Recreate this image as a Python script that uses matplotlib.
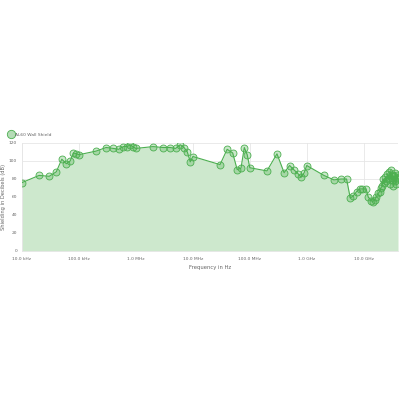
import numpy as np
import matplotlib.pyplot as plt
from matplotlib.ticker import FixedLocator, NullLocator

# Frequencies in Hz and shielding values in dB
freq_khz = [10, 20, 30, 40, 50, 60, 70, 80, 90, 100, 200, 300, 400, 500, 600, 700, 800, 900]
shield_khz = [76, 84, 83, 88, 102, 97, 100, 109, 108, 107, 111, 115, 114, 113, 116, 116, 118, 115.5]

freq_mhz = [1, 2, 3, 4, 5, 6, 7, 8, 9, 10, 30, 40, 50, 60, 70, 80, 90, 100,
            200, 300, 400, 500, 600, 700, 800, 900]
shield_mhz = [114, 116, 115, 115, 114, 118, 115, 110, 99, 105, 96, 113, 109, 90.5, 92, 115, 107, 92.5,
              89, 108, 87, 95, 90, 86, 82, 87]

freq_ghz = [1, 2, 3, 4, 5, 5.8, 6.5, 7.5, 8.5, 9.5, 11, 12, 13.5, 14.5, 15.5, 16.5, 18, 19, 20,
            21, 22, 23, 24, 25, 26, 27, 28, 29, 30, 31, 32, 33, 34, 35, 36, 37, 38, 39, 40]
shield_ghz = [95, 84, 79, 80, 80, 59, 61, 66, 69, 69, 69, 60, 56, 55, 57, 60, 64, 66, 70,
              72, 80, 76, 82, 78, 86, 80, 88, 75, 90, 79, 85, 72, 83, 78, 87, 74, 84, 80, 82]

freq = np.array([f * 1e3 for f in freq_khz] + [f * 1e6 for f in freq_mhz] + [f * 1e9 for f in freq_ghz])
shield = np.array(shield_khz + shield_mhz + shield_ghz)

x_ticks = [1e4, 1e5, 1e6, 1e7, 1e8, 1e9, 1e10]
x_tick_labels = ["10.0 kHz", "100.0 kHz", "1.0 MHz", "10.0 MHz", "100.0 MHz", "1.0 GHz", "10.0 GHz"]
y_ticks = [0, 20, 40, 60, 80, 100, 120]

line_color = "#4caf50"
fill_color = "#cde8cd"
text_color = "#666666"

fig = plt.figure(figsize=(4, 4), dpi=100)
ax = fig.add_axes([0.055, 0.3725, 0.94, 0.27])

ax.fill_between(freq, shield, 0, color=fill_color, linewidth=0, zorder=1)
ax.plot(freq, shield, color=line_color, linewidth=0.8, marker="o", markersize=5,
        markerfacecolor=(0.3, 0.69, 0.31, 0.3), markeredgecolor=line_color,
        markeredgewidth=0.6, label="AL60 Wall Shield", zorder=3)

ax.set_xscale("log")
ax.set_xlim(1e4, 4e10)
ax.set_ylim(0, 120)
ax.xaxis.set_major_locator(FixedLocator(x_ticks))
ax.xaxis.set_minor_locator(NullLocator())
ax.set_xticklabels(x_tick_labels)
ax.set_yticks(y_ticks)

ax.grid(True, color="#e6e6e6", linewidth=0.6, zorder=0)
ax.set_axisbelow(True)
for s in ["top", "right"]:
    ax.spines[s].set_visible(False)
for s in ["left", "bottom"]:
    ax.spines[s].set_color("#e6e6e6")
    ax.spines[s].set_linewidth(0.6)

ax.tick_params(axis="both", labelsize=3.2, colors=text_color, length=0)
ax.tick_params(axis="y", pad=3.5)
ax.tick_params(axis="x", pad=4)
ax.set_xlabel("Frequency in Hz", fontsize=3.8, color=text_color, labelpad=3)
ax.set_ylabel("Shielding in Decibels (dB)", fontsize=3.7, color=text_color, labelpad=2)

leg = ax.legend(loc="lower left", bbox_to_anchor=(-0.04, 1.04), frameon=False,
                fontsize=3.2, handlelength=0.9, handletextpad=0.4, borderaxespad=0)
for t in leg.get_texts():
    t.set_color(text_color)
leg.legend_handles[0].set_linestyle("none")
leg.legend_handles[0].set_markersize(6)
leg.legend_handles[0].set_markerfacecolor("#b5dcb6")

fig.savefig("out.png", dpi=100)
